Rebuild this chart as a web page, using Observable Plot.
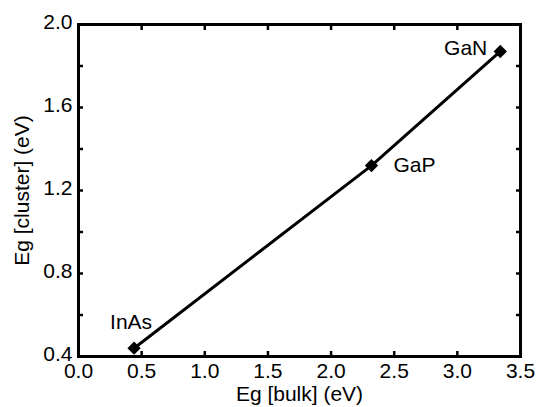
<!DOCTYPE html>
<html>
<head>
<meta charset="utf-8">
<script src="https://cdn.jsdelivr.net/npm/d3@7"></script>
<script src="https://cdn.jsdelivr.net/npm/@observablehq/plot@0.6"></script>
<style>
  html, body { margin: 0; padding: 0; background: #fff; }
  #chart svg { display: block; }
</style>
</head>
<body>
<div id="chart"></div>
<script>
const materials = ["InAs", "GaP", "GaN"];
const egBulk = [0.44, 2.32, 3.34];
const egCluster = [0.44, 1.32, 1.87];

const xTicks = [0, 0.5, 1.0, 1.5, 2.0, 2.5, 3.0, 3.5];
const yLabelTicks = [0.4, 0.8, 1.2, 1.6, 2.0];
const yTicks = [0.4, 0.6, 0.8, 1.0, 1.2, 1.4, 1.6, 1.8, 2.0];

const points = materials.map((m, i) => ({name: m, bulk: egBulk[i], cluster: egCluster[i]}));
const fmt = d3.format(".1f");
const blank = () => "";
const FS = 21;

const chart = Plot.plot({
  width: 539,
  height: 407,
  marginLeft: 78,
  marginRight: 19,
  marginTop: 24,
  marginBottom: 51,
  style: {fontFamily: "'Liberation Sans', Arial, sans-serif", fontSize: FS + "px", color: "#000", background: "#fff"},
  x: {domain: [0, 3.5]},
  y: {domain: [0.4, 2.0]},
  marks: [
    Plot.axisX({anchor: "bottom", ticks: xTicks, tickSize: 0, tickPadding: 7, tickFormat: fmt, fontSize: FS,
      label: "Eg [bulk] (eV)", labelAnchor: "center", labelArrow: "none", labelOffset: 44}),
    Plot.axisX({anchor: "bottom", ticks: xTicks, tickSize: -5, tickFormat: blank, strokeWidth: 2.5, label: null}),
    Plot.axisX({anchor: "top", ticks: xTicks, tickSize: -5, tickFormat: blank, strokeWidth: 2.5, label: null}),
    Plot.axisY({anchor: "left", ticks: yLabelTicks, tickSize: 0, tickPadding: 6, tickFormat: fmt, fontSize: FS, dy: -2,
      label: "Eg [cluster] (eV)", labelAnchor: "center", labelArrow: "none", labelOffset: 64}),
    Plot.axisY({anchor: "left", ticks: yTicks, tickSize: -5, tickFormat: blank, strokeWidth: 2.5, label: null}),
    Plot.axisY({anchor: "right", ticks: yTicks, tickSize: -5, tickFormat: blank, strokeWidth: 2.5, label: null}),
    Plot.frame({stroke: "#000", strokeWidth: 3}),
    Plot.line(points, {x: "bulk", y: "cluster", stroke: "#000", strokeWidth: 3}),
    Plot.dot(points, {x: "bulk", y: "cluster", symbol: "diamond2", r: 6, fill: "#000", stroke: "none"}),
    Plot.text(points, {filter: d => d.name === "InAs", x: "bulk", y: "cluster", text: "name", dx: -3, dy: -26, fontSize: FS, fill: "#000"}),
    Plot.text(points, {filter: d => d.name === "GaP", x: "bulk", y: "cluster", text: "name", dx: 22, dy: 0, textAnchor: "start", fontSize: FS, fill: "#000"}),
    Plot.text(points, {filter: d => d.name === "GaN", x: "bulk", y: "cluster", text: "name", dx: -13, dy: -3, textAnchor: "end", fontSize: FS, fill: "#000"})
  ]
});
document.getElementById("chart").appendChild(chart);
</script>
</body>
</html>
